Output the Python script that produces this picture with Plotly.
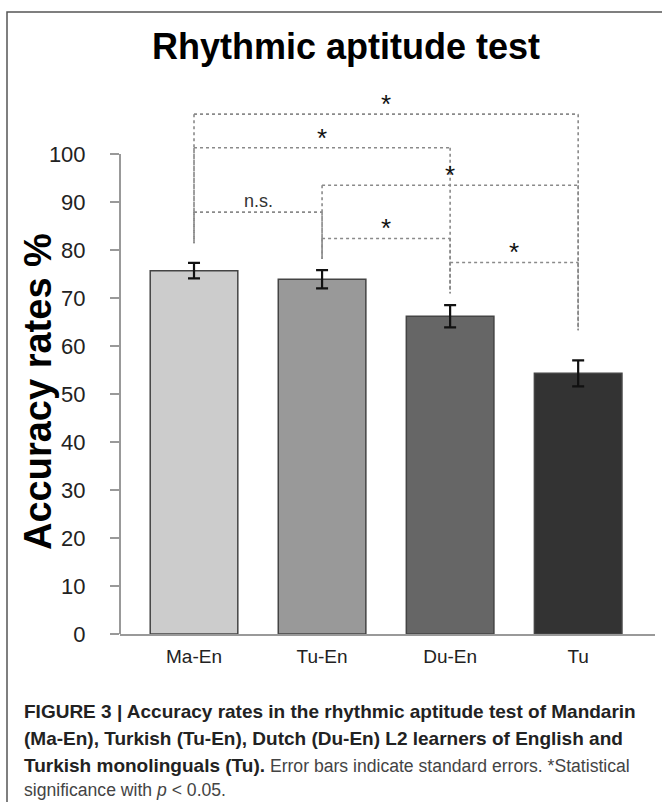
import plotly.graph_objects as go

# ---------------- data ----------------
groups = ["Ma-En", "Tu-En", "Du-En", "Tu"]
accuracy = [75.7, 73.9, 66.2, 54.3]
std_err = [1.6, 1.9, 2.3, 2.7]
bar_colors = ["#cccccc", "#999999", "#666666", "#333333"]
y_ticks = [0, 10, 20, 30, 40, 50, 60, 70, 80, 90, 100]

# significance brackets: (left group, right group, bracket height, label)
comparisons = [
    (0, 3, 108.3, "*"),
    (0, 2, 101.3, "*"),
    (1, 3, 93.5, "*"),
    (0, 1, 87.9, "n.s."),
    (1, 2, 82.4, "*"),
    (2, 3, 77.4, "*"),
]
# lowest point of the dotted leg for each group
leg_bottom = [81.4, 78.1, 71.0, 63.3]

title_text = "Rhythmic aptitude test"
y_title = "Accuracy rates %"
REG = "<span style='color:#444;font-size:17.6px'>"
caption_lines = [
    "<b>FIGURE 3 | Accuracy rates in the rhythmic aptitude test of Mandarin</b>",
    "<b>(Ma-En), Turkish (Tu-En), Dutch (Du-En) L2 learners of English and</b>",
    "<b>Turkish monolinguals (Tu).</b>" + REG + " Error bars indicate standard errors. *Statistical</span>",
    REG + "significance with <i>p</i> &lt; 0.05.</span>",
]

# ---------------- layout constants ----------------
W, H = 662, 802
ML, MR, MT, MB = 120, 7, 34, 168
PW, PH = W - ML - MR, H - MT - MB


def px_x(px):
    return (px - ML) / PW


def px_y(py):
    return (H - MB - py) / PH


FONT = "Liberation Sans, Arial, sans-serif"

fig = go.Figure()
fig.add_trace(go.Bar(
    x=list(range(len(groups))),
    y=accuracy,
    width=0.684,
    marker=dict(color=bar_colors, line=dict(color="#444444", width=1.5)),
    error_y=dict(type="data", array=std_err, color="#111111", thickness=2.2, width=6),
    showlegend=False,
    hoverinfo="skip",
))

shapes = []
annotations = []
dot = dict(color="#8a8a8a", width=1.6, dash="dot")
for a, b, h, lab in comparisons:
    shapes.append(dict(type="line", xref="x", yref="y", x0=a, x1=b, y0=h, y1=h, line=dot))
    shapes.append(dict(type="line", xref="x", yref="y", x0=a, x1=a, y0=h, y1=leg_bottom[a], line=dot))
    shapes.append(dict(type="line", xref="x", yref="y", x0=b, x1=b, y0=h, y1=leg_bottom[b], line=dot))
    if lab == "*":
        annotations.append(dict(x=(a + b) / 2, y=h, xref="x", yref="y", text="*", showarrow=False,
                                yanchor="bottom", yshift=-7, font=dict(family=FONT, size=26, color="#111")))
    else:
        annotations.append(dict(x=(a + b) / 2, y=h, xref="x", yref="y", text=lab, showarrow=False,
                                yanchor="bottom", yshift=-1, font=dict(family=FONT, size=18, color="#333")))

# y axis line (only up to 100)
shapes.append(dict(type="line", xref="paper", yref="y", x0=0, x1=0, y0=0, y1=100,
                   line=dict(color="#999999", width=2)))
# outer frame
shapes.append(dict(type="rect", xref="paper", yref="paper", x0=px_x(7), x1=px_x(700),
                   y0=px_y(900), y1=px_y(12), line=dict(color="#555555", width=1.5)))

# title
annotations.append(dict(x=px_x(346), y=px_y(47), xref="paper", yref="paper", text="<b>" + title_text + "</b>",
                        showarrow=False, xanchor="center", yanchor="middle",
                        font=dict(family=FONT, size=36, color="#000")))
# y axis title
annotations.append(dict(x=px_x(38), y=px_y(392), xref="paper", yref="paper", text="<b>" + y_title + "</b>",
                        showarrow=False, textangle=-90, xanchor="center", yanchor="middle",
                        font=dict(family=FONT, size=38, color="#000")))
# caption
cap_y = [711, 738, 765, 790]
for line, cy in zip(caption_lines, cap_y):
    annotations.append(dict(x=px_x(22), y=px_y(cy), xref="paper", yref="paper", text=line,
                            showarrow=False, xanchor="left", yanchor="middle", align="left",
                            font=dict(family=FONT, size=19, color="#222")))

fig.update_layout(
    width=W, height=H,
    margin=dict(l=ML, r=MR, t=MT, b=MB),
    paper_bgcolor="white", plot_bgcolor="white",
    shapes=shapes, annotations=annotations,
    bargap=0,
    hovermode=False,
    xaxis=dict(range=[-0.578, 3.6], tickmode="array", tickvals=list(range(len(groups))), ticktext=groups,
               showline=True, linecolor="#999999", linewidth=2, ticks="", showgrid=False, zeroline=False,
               ticklabelstandoff=4,
               tickfont=dict(family=FONT, size=19, color="#222"), fixedrange=True),
    yaxis=dict(range=[0, 125], tickmode="array", tickvals=y_ticks, showline=False, ticks="outside",
               ticklen=9, tickcolor="#999999", tickwidth=1.5, showgrid=False, zeroline=False,
               ticklabelstandoff=20, tickfont=dict(family=FONT, size=22, color="#222"), fixedrange=True),
    font=dict(family=FONT),
)

fig.write_html("out.html", config={"displayModeBar": False, "staticPlot": True},
               post_script="document.body.style.margin='0px';document.body.style.overflow='hidden';")
